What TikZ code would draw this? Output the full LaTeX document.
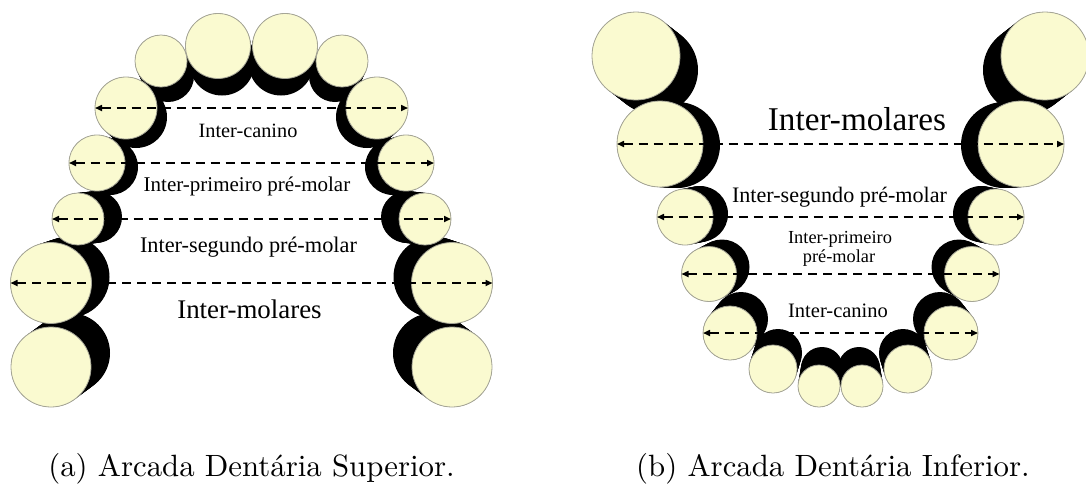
\documentclass[tikz,border=0pt]{standalone}
\usepackage{fontspec}
\usepackage{graphicx}
\usetikzlibrary{arrows.meta}
\newfontfamily\lblfont{Liberation Serif}
\definecolor{enamel}{RGB}{250,250,208}
\definecolor{rim}{RGB}{165,165,150}
\pgfdeclarelayer{shadow}
\pgfsetlayers{shadow,main}
\tikzset{
  toothnode/.style={circle, draw=rim, fill=enamel, line width=0.8pt, inner sep=0pt, outer sep=0pt},
  measure/.style={line width=1.6pt, dash pattern=on 9pt off 6pt,
    {Triangle[length=7pt,width=6pt]}-{Triangle[length=7pt,width=6pt]}},
  lbl/.style={anchor=base, inner sep=0pt},
  caption/.style={anchor=base, inner sep=0pt},
}
% a tooth: name, centre x, centre y, radius, shadow offset x, shadow offset y
\newcommand\tooth[6]{%
  \node[toothnode, minimum size={2*#4pt}] (#1) at (#2,#3) {};
  \begin{pgfonlayer}{shadow}
    \foreach \s in {0,0.1,...,1.01}
      \fill[black] ({#2+\s*(#5)},{#3+\s*(#6)}) circle[radius=#4];
  \end{pgfonlayer}
}
\begin{document}
\begin{tikzpicture}[x=1pt,y=-1pt]
\useasboundingbox (0,0) rectangle (1086,491);

% upper arch
\tooth{uIcL}{218}{46}{32.5}{4}{17}
\tooth{uIcR}{285}{46}{32.5}{-4}{17}
\tooth{uIlL}{161}{61}{26}{7}{15}
\tooth{uIlR}{342}{61}{26}{-7}{15}
\tooth{uCaL}{126}{108}{31}{10}{9}
\tooth{uCaR}{377}{108}{31}{-10}{9}
\tooth{uPaL}{97}{163}{28}{13}{4}
\tooth{uPaR}{406}{163}{28}{-13}{4}
\tooth{uPbL}{78}{219}{26}{18}{-2}
\tooth{uPbR}{425}{219}{26}{-18}{-2}
\tooth{uMaL}{51}{283}{40.5}{18}{-6}
\tooth{uMaR}{452}{283}{40.5}{-18}{-6}
\tooth{uMbL}{51}{367}{40}{19}{-14}
\tooth{uMbR}{452}{367}{40}{-19}{-14}

% lower arch
\tooth{lMbL}{636}{56}{44}{18}{14}
\tooth{lMbR}{1045}{56}{44}{-18}{14}
\tooth{lMaL}{660}{144}{43}{17}{1}
\tooth{lMaR}{1021}{144}{43}{-17}{1}
\tooth{lPbL}{685}{217}{28}{15}{-3}
\tooth{lPbR}{996}{217}{28}{-15}{-3}
\tooth{lPaL}{709}{274}{27.5}{13}{-7}
\tooth{lPaR}{972}{274}{27.5}{-13}{-7}
\tooth{lCaL}{730}{333}{27}{11}{-14}
\tooth{lCaR}{951}{333}{27}{-11}{-14}
\tooth{lIlL}{773}{369}{24}{5}{-16}
\tooth{lIlR}{908}{369}{24}{-5}{-16}
\tooth{lIcL}{819}{386}{21}{3}{-18}
\tooth{lIcR}{862}{386}{21}{-3}{-18}

% distances
\draw[measure] (uCaL.west) -- (uCaR.east);
\draw[measure] (uPaL.west) -- (uPaR.east);
\draw[measure] (uPbL.west) -- (uPbR.east);
\draw[measure] (uMaL.west) -- (uMaR.east);
\draw[measure] (lMaL.west) -- (lMaR.east);
\draw[measure] (lPbL.west) -- (lPbR.east);
\draw[measure] (lPaL.west) -- (lPaR.east);
\draw[measure] (lCaL.west) -- (lCaR.east);

% labels, upper arch
\node[lbl, font=\lblfont\fontsize{20.3}{24}\selectfont] (tUc) at (248,137) {Inter-canino};
\node[lbl, font=\lblfont\fontsize{21}{25}\selectfont] (tUpa) at (247,191) {Inter-primeiro pré-molar};
\node[lbl, font=\lblfont\fontsize{22.3}{26}\selectfont] (tUpb) at (248.5,252) {Inter-segundo pré-molar};
\node[lbl, font=\lblfont\fontsize{26.9}{32}\selectfont] (tUm) at (249.5,318) {Inter-molares};

% labels, lower arch
\node[lbl, font=\lblfont\fontsize{33.2}{38}\selectfont] (tLm) at (857,130) {Inter-molares};
\node[lbl, font=\lblfont\fontsize{22.1}{26}\selectfont] (tLpb) at (839.5,202) {Inter-segundo pré-molar};
\node[lbl, font=\lblfont\fontsize{18.4}{22}\selectfont] (tLpa) at (840,243) {Inter-primeiro};
\node[lbl, font=\lblfont\fontsize{18.3}{22}\selectfont] (tLpa2) at (839,262) {pré-molar};
\node[lbl, font=\lblfont\fontsize{20.5}{24}\selectfont] (tLc) at (838,317) {Inter-canino};

% captions
\node[caption] (capA) at (251.5,476) {\scalebox{3.08}{(a) Arcada Dentária Superior.}};
\node[caption] (capB) at (833,476) {\scalebox{3.08}{(b) Arcada Dentária Inferior.}};
\end{tikzpicture}
\end{document}
